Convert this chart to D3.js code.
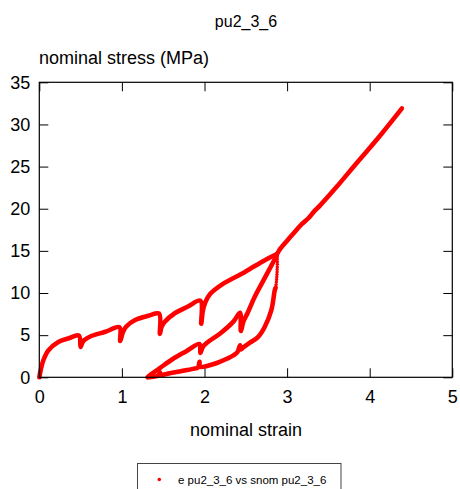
<!DOCTYPE html>
<html>
<head>
<meta charset="utf-8">
<script src="https://cdn.jsdelivr.net/npm/d3@7"></script>
<style>
  body { margin: 0; background: #fff; }
  text { font-family: "Liberation Sans", Arial, sans-serif; fill: #000; }
</style>
</head>
<body>
<script>
// nominal strain / nominal stress (one continuous test path)
var strain = [
  0, 0.02, 0.05, 0.11, 0.23, 0.35, 0.48,
  0.50, 0.52, 0.55, 0.63, 0.80, 0.97,
  0.98, 1.01, 1.05, 1.16, 1.32, 1.45,
  1.46, 1.48, 1.52, 1.64, 1.80, 1.95,
  1.96, 1.98, 2.01, 2.07, 2.21, 2.49, 2.73, 2.87
];
var stress = [
  0, 1.0, 2.05, 3.2, 4.2, 4.6, 4.95,
  3.6, 4.1, 4.45, 4.9, 5.4, 5.95,
  4.3, 5.3, 6.0, 6.8, 7.3, 7.55,
  5.15, 6.0, 6.6, 7.6, 8.4, 9.1,
  6.35, 7.9, 8.9, 9.9, 11.0, 12.5, 13.9, 14.6
];

// fast unloading right after the peak (sparse points)
var dropStrain = [2.880, 2.881, 2.882, 2.882, 2.881, 2.880, 2.879, 2.877, 2.875, 2.873, 2.870, 2.867, 2.864, 2.861];
var dropStress = [14.3, 14.0, 13.7, 13.4, 13.1, 12.8, 12.5, 12.2, 11.9, 11.6, 11.3, 11.0, 10.75, 10.5];

// unloading branch (stress recovers in the holds)
var unloadStrain = [2.86, 2.85, 2.81, 2.73, 2.65, 2.55, 2.47, 2.435, 2.43, 2.40, 2.35, 2.27, 2.15, 2.03, 1.945, 1.94, 1.92, 1.86, 1.70, 1.54, 1.47, 1.46, 1.44, 1.38, 1.33];
var unloadStress = [10.6, 10.3, 8.0, 6.0, 4.8, 4.1, 3.55, 3.3, 3.8, 3.0, 2.6, 2.2, 1.7, 1.35, 1.25, 1.85, 1.15, 1.0, 0.7, 0.4, 0.3, 0.6, 0.2, 0.07, 0];

// reloading branch, then on to the end of the test
var reloadStrain = [1.31, 1.36, 1.46, 1.62, 1.78, 1.94, 1.95, 1.98, 2.03, 2.19, 2.35, 2.43, 2.44, 2.47, 2.52, 2.61, 2.73, 2.85, 2.90, 3.00, 3.08, 3.18, 3.26, 3.32, 3.40, 3.60, 3.84, 4.12, 4.39];
var reloadStress = [0, 0.4, 1.1, 2.2, 3.1, 3.95, 2.9, 3.6, 4.1, 5.2, 6.6, 7.65, 5.5, 6.6, 7.6, 9.6, 11.8, 14.0, 15.0, 16.2, 17.1, 18.2, 18.9, 19.6, 20.4, 22.6, 25.4, 28.6, 31.9];

var xTicks = [0, 1, 2, 3, 4, 5];
var yTicks = [0, 5, 10, 15, 20, 25, 30, 35];

var w = 460, h = 489;
var pLeft = 39.3, pRight = 452.3, pTop = 82.3, pBottom = 377.3;

var x = d3.scaleLinear().domain([0, 5]).range([pLeft, pRight]);
var y = d3.scaleLinear().domain([0, 35]).range([pBottom, pTop]);

var svg = d3.select("body").append("svg")
  .attr("width", w)
  .attr("height", h);

function pairs(a, b) { return a.map(function(d, i) { return [d, b[i]]; }); }

var line = d3.line()
  .x(function(d) { return x(d[0]); })
  .y(function(d) { return y(d[1]); })
  .curve(d3.curveCatmullRom.alpha(0.5));

var red = "#ff0000";

[pairs(strain, stress), pairs(unloadStrain, unloadStress), pairs(reloadStrain, reloadStress)]
  .forEach(function(seg) {
    svg.append("path")
      .attr("d", line(seg))
      .attr("fill", "none")
      .attr("stroke", red)
      .attr("stroke-width", 4.6)
      .attr("stroke-linejoin", "round")
      .attr("stroke-linecap", "round");
  });

svg.selectAll("circle.drop")
  .data(pairs(dropStrain, dropStress))
  .enter()
  .append("circle")
  .attr("class", "drop")
  .attr("cx", function(d) { return x(d[0]); })
  .attr("cy", function(d) { return y(d[1]); })
  .attr("r", 1.7)
  .attr("fill", red);

// axes: ticks inward on all four sides
function styleAxis(g) {
  g.select(".domain").remove();
  g.selectAll(".tick line").attr("stroke", "#000").attr("stroke-width", 1);
  g.selectAll("text").style("font-size", "18px").style("font-family", "Liberation Sans, Arial, sans-serif");
}

svg.append("g").attr("transform", "translate(0," + pBottom + ")")
  .call(d3.axisBottom(x).tickValues(xTicks).tickSize(-9).tickPadding(13).tickFormat(d3.format("d")))
  .call(styleAxis);
svg.append("g").attr("transform", "translate(0," + pTop + ")")
  .call(d3.axisTop(x).tickValues(xTicks).tickSize(-9).tickFormat(""))
  .call(styleAxis);
svg.append("g").attr("transform", "translate(" + pLeft + ",0)")
  .call(d3.axisLeft(y).tickValues(yTicks).tickSize(-9).tickPadding(9).tickFormat(d3.format("d")))
  .call(styleAxis);
svg.append("g").attr("transform", "translate(" + pRight + ",0)")
  .call(d3.axisRight(y).tickValues(yTicks).tickSize(-9).tickFormat(""))
  .call(styleAxis);

svg.append("rect")
  .attr("x", pLeft).attr("y", pTop)
  .attr("width", pRight - pLeft).attr("height", pBottom - pTop)
  .attr("fill", "none").attr("stroke", "#000").attr("stroke-width", 1.2);

svg.append("text")
  .attr("x", 246).attr("y", 27)
  .attr("text-anchor", "middle")
  .style("font-size", "16px")
  .text("pu2_3_6");

svg.append("text")
  .attr("x", 39).attr("y", 64)
  .style("font-size", "18px")
  .text("nominal stress (MPa)");

svg.append("text")
  .attr("x", 246).attr("y", 436)
  .attr("text-anchor", "middle")
  .style("font-size", "18px")
  .text("nominal strain");

// legend
var lg = svg.append("g");
lg.append("rect")
  .attr("x", 137.5).attr("y", 463.5)
  .attr("width", 203.5).attr("height", 40)
  .attr("fill", "#fff").attr("stroke", "#444").attr("stroke-width", 1);
lg.append("circle")
  .attr("cx", 159.3).attr("cy", 479.5).attr("r", 1.8).attr("fill", red);
lg.append("text")
  .attr("x", 178).attr("y", 483.5)
  .style("font-size", "11.5px")
  .text("e pu2_3_6 vs snom pu2_3_6");
</script>
</body>
</html>
